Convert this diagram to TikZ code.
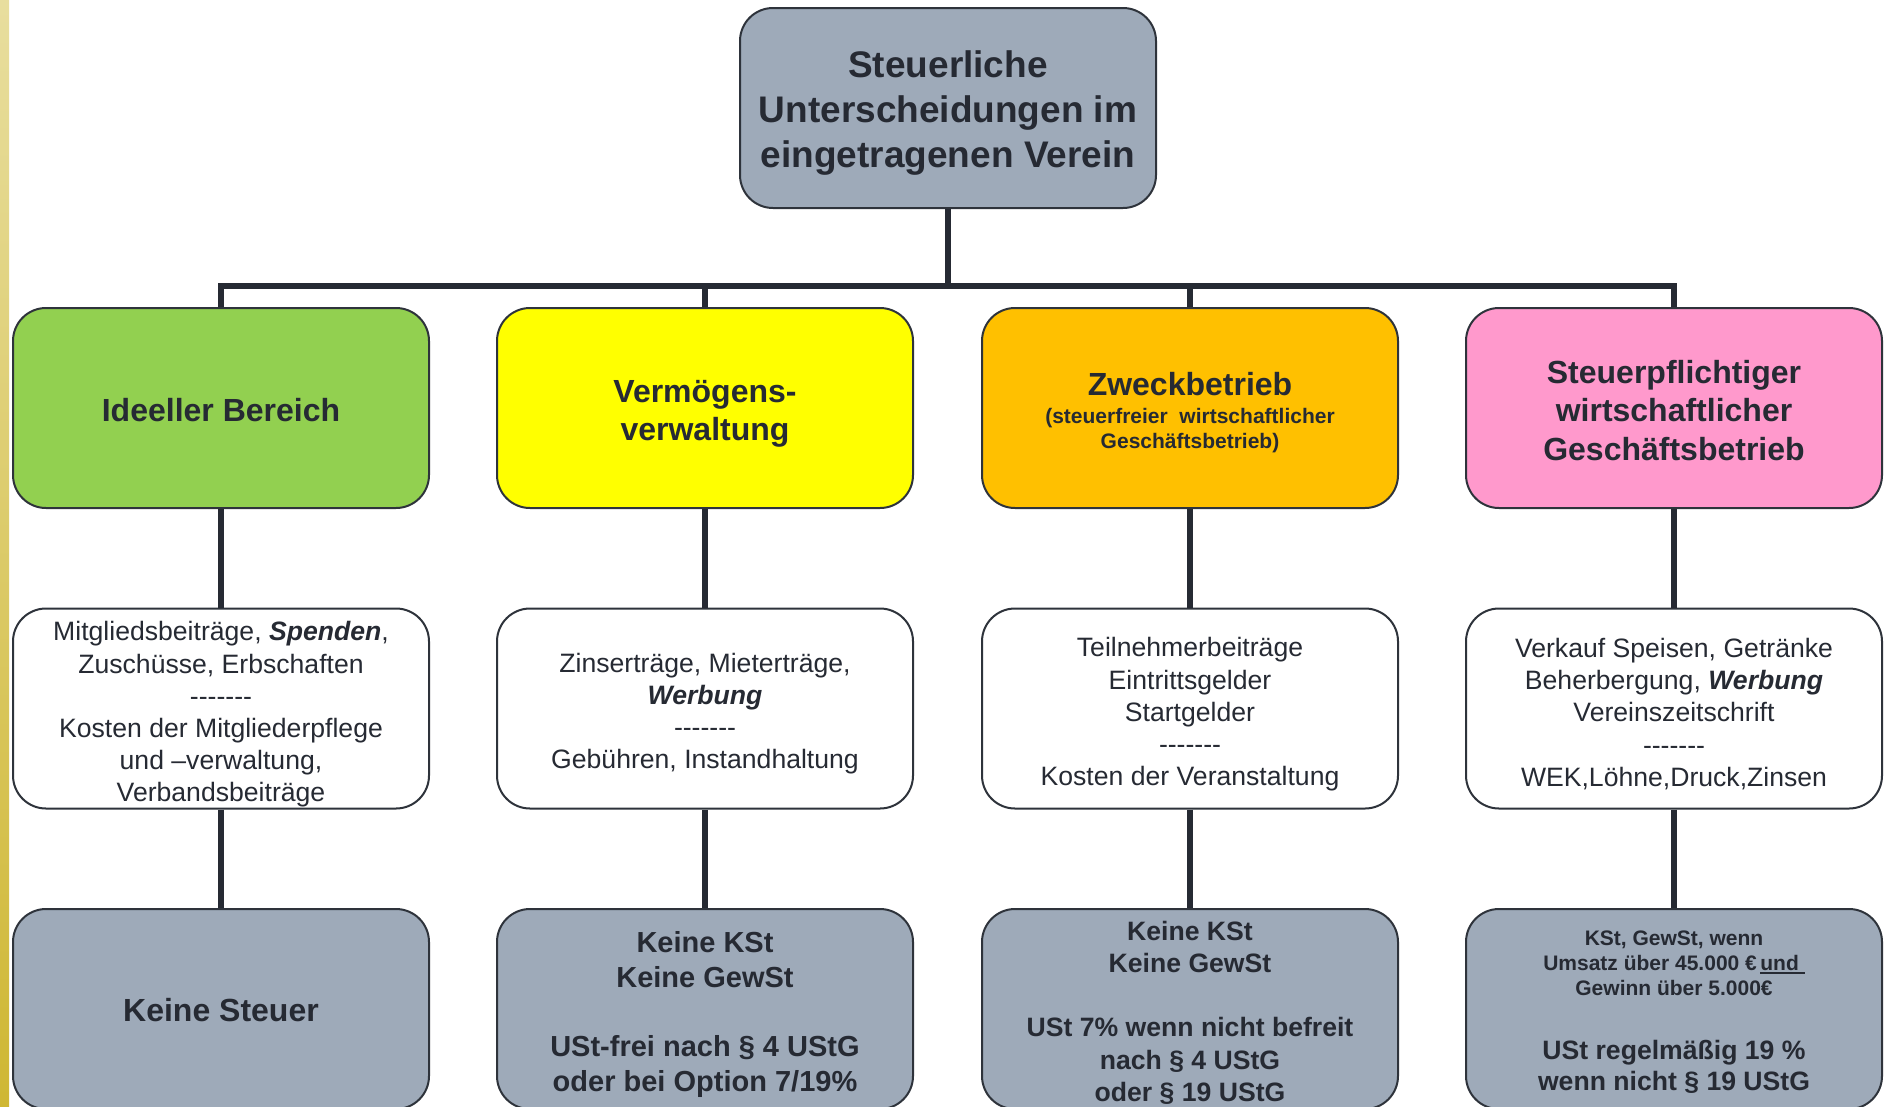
\documentclass[tikz,border=0pt]{standalone}
\usepackage{fontspec}
\setmainfont{Liberation Sans}
\definecolor{txt}{HTML}{262A33}
\definecolor{bord}{HTML}{2E333B}
\definecolor{grayb}{HTML}{9EAAB9}
\definecolor{greenb}{HTML}{92D050}
\definecolor{yellowb}{HTML}{FFFF00}
\definecolor{orangeb}{HTML}{FFC000}
\definecolor{pinkb}{HTML}{FF99CC}
\definecolor{barTop}{HTML}{E8DE9E}
\definecolor{barBot}{HTML}{CFB733}
\newcommand\sevendash{\mbox{-}\mbox{-}\mbox{-}\mbox{-}\mbox{-}\mbox{-}\mbox{-}}
\newcommand\myul[1]{\setbox0\hbox{#1}\rlap{\rule[-3.5pt]{\wd0}{1.8pt}}\box0}
\begin{document}
\begin{tikzpicture}[x=1pt,y=-1pt,
  box/.style={draw=bord, line width=2pt, rounded corners=33pt, minimum width=416pt,
    minimum height=200pt, inner sep=0pt},
  conn/.style={draw=txt, line width=6pt, line join=miter},
  lbl/.style={inner sep=0pt, align=center, text=txt},
  fTop/.style={font=\fontsize{37}{45}\selectfont\bfseries},
  fHead/.style={font=\fontsize{32}{38.5}\selectfont\bfseries},
  fMid/.style={font=\fontsize{26.6}{32.2}\selectfont}
]
\useasboundingbox (0,0) rectangle (1884,1106);
\shade[top color=barTop, bottom color=barBot] (0,0) rectangle (9,1106);

% top
\node[box, fill=grayb] (top) at (948,108) {};
\node[lbl, fTop] (ttop) at (948,113)
  {Steuerliche\\Unterscheidungen im\\eingetragenen Verein};

% level 2
\node[box, fill=greenb] (b1) at (221,408) {};
\node[lbl, fHead] (tb1) at (221,410.5) {Ideeller Bereich};
\node[box, fill=yellowb] (b2) at (705,408) {};
\node[lbl, fHead] (tb2) at (705,414) {Vermögens-\\verwaltung};
\node[box, fill=orangeb] (b3) at (1190,408) {};
\node[lbl, fHead] (z1) at (1190,384.5) {Zweckbetrieb};
\node[lbl, font=\fontsize{21}{25.5}\selectfont\bfseries] (z2) at (1190,430.5)
  {(steuerfreier\ \ wirtschaftlicher\\Geschäftsbetrieb)};
\node[box, fill=pinkb] (b4) at (1674,408) {};
\node[lbl, fHead] (tb4) at (1674,410.5)
  {Steuerpflichtiger\\wirtschaftlicher\\Geschäftsbetrieb};

% level 3
\node[box, fill=white] (c1) at (221,708.5) {};
\node[lbl, fMid] (tc1) at (221,714.5)
  {Mitgliedsbeiträge, \textbf{\textit{Spenden}},\\Zuschüsse, Erbschaften\\\sevendash\\Kosten der Mitgliederpflege\\und –verwaltung,\\Verbandsbeiträge};
\node[box, fill=white] (c2) at (705,708.5) {};
\node[lbl, fMid] (tc2) at (705,713.5)
  {Zinserträge, Mieterträge,\\\textbf{\textit{Werbung}}\\\sevendash\\Gebühren, Instandhaltung};
\node[box, fill=white] (c3) at (1190,708.5) {};
\node[lbl, fMid] (tc3) at (1190,714.5)
  {Teilnehmerbeiträge\\Eintrittsgelder\\Startgelder\\\sevendash\\Kosten der Veranstaltung};
\node[box, fill=white] (c4) at (1674,708.5) {};
\node[lbl, fMid] (tc4) at (1674,714)
  {Verkauf Speisen, Getränke\\Beherbergung, \textbf{\textit{Werbung}}\\Vereinszeitschrift\\\sevendash\\WEK,Löhne,Druck,Zinsen};

% level 4
\node[box, fill=grayb] (d1) at (221,1009) {};
\node[lbl, fHead] (td1) at (221,1010) {Keine Steuer};
\node[box, fill=grayb] (d2) at (705,1009) {};
\node[lbl, font=\fontsize{29}{34.7}\selectfont\bfseries] (td2) at (705,1014.5)
  {Keine KSt\\Keine GewSt\\[34.7pt]USt-frei nach § 4 UStG\\oder bei Option 7/19\%};
\node[box, fill=grayb] (d3) at (1190,1009) {};
\node[lbl, font=\fontsize{26.6}{32.2}\selectfont\bfseries] (td3) at (1190,1012.6)
  {Keine KSt\\Keine GewSt\\[32.2pt]USt 7\% wenn nicht befreit\\nach § 4 UStG\\oder § 19 UStG};
\node[box, fill=grayb] (d4) at (1674,1009) {};
\node[lbl, font=\fontsize{21}{25}\selectfont\bfseries] (k1) at (1674,963)
  {KSt, GewSt, wenn\\Umsatz über 45.000 €\,\myul{und\ }\\Gewinn über 5.000€};
\node[lbl, font=\fontsize{26.6}{31.5}\selectfont\bfseries] (k2) at (1674,1067)
  {USt regelmäßig 19 \%\\wenn nicht § 19 UStG};

% connectors
\coordinate (bus) at (948,286);
\draw[conn] (top.south) -- (top.south |- bus);
\draw[conn] (b1.north) -- (b1.north |- bus) -- (b4.north |- bus) -- (b4.north);
\draw[conn] (b2.north) -- (b2.north |- bus);
\draw[conn] (b3.north) -- (b3.north |- bus);
\foreach \i in {1,2,3,4}{
  \draw[conn] (b\i.south) -- (c\i.north);
  \draw[conn] (c\i.south) -- (d\i.north);
}
\end{tikzpicture}
\end{document}
